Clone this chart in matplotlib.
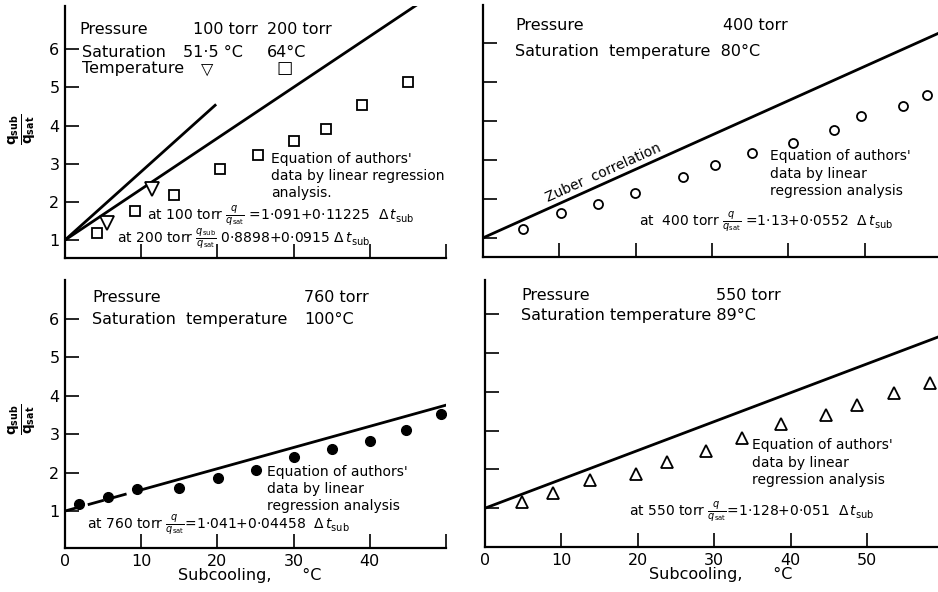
import numpy as np
import matplotlib
matplotlib.use('Agg')
import matplotlib.pyplot as plt

plt.rcParams['font.family'] = 'DejaVu Sans'
plt.rcParams['mathtext.fontset'] = 'dejavusans'

# 100 / 200 torr
sq200_x = [4.2, 9.2, 14.3, 20.3, 25.3, 30.0, 34.2, 39.0, 45.0]
sq200_y = [1.18, 1.77, 2.18, 2.85, 3.22, 3.59, 3.92, 4.53, 5.14]
tri100_x = [5.5, 11.4]
tri100_y = [1.45, 2.35]
zuber100_x = [0, 19.7]
zuber100_y = [1.0, 4.53]
zuber200_x = [0, 50]
zuber200_y = [1.0, 7.67]

# 400 torr
c400_x = [5.3, 10.2, 15.1, 19.9, 26.2, 30.4, 35.3, 40.6, 46.0, 49.5, 55.0, 58.2]
c400_y = [1.22, 1.63, 1.87, 2.16, 2.57, 2.86, 3.17, 3.43, 3.77, 4.13, 4.37, 4.67]
zuber400_x = [0, 59.6]
zuber400_y = [1.0, 6.24]

# 760 torr
d760_x = [1.8, 5.6, 9.5, 14.9, 20.1, 25.1, 30.0, 35.0, 40.0, 44.8, 49.4]
d760_y = [1.18, 1.37, 1.57, 1.61, 1.86, 2.06, 2.41, 2.62, 2.82, 3.10, 3.51]
zuber760_x = [0, 10, 50]
zuber760_y = [1.0, 1.55, 3.75]

# 550 torr
t550_x = [4.9, 8.9, 13.8, 19.8, 23.8, 28.9, 33.7, 38.8, 44.7, 48.7, 53.5, 58.2]
t550_y = [1.16, 1.39, 1.72, 1.87, 2.19, 2.48, 2.81, 3.16, 3.41, 3.65, 3.96, 4.23]
zuber550_x = [0, 59.3]
zuber550_y = [1.0, 5.41]

xticks = [0, 10, 20, 30, 40, 50]
yticks = [1, 2, 3, 4, 5, 6]

W, H = 938, 592
fig = plt.figure(figsize=(W / 100, H / 100), dpi=100)


def make_axes(left, right, top, bottom, xlim, ylim):
    ax = fig.add_axes([left / W, 1 - bottom / H, (right - left) / W, (bottom - top) / H])
    ax.set_xlim(*xlim)
    ax.set_ylim(*ylim)
    for s in ['top', 'right']:
        ax.spines[s].set_visible(False)
    for s in ['left', 'bottom']:
        ax.spines[s].set_linewidth(1.6)
    ax.set_xticks(xticks)
    ax.set_yticks(yticks)
    ax.tick_params(direction='in', length=10, width=1.2, labelsize=11.5, pad=4)
    return ax


ax1 = make_axes(65, 446, 6, 258, (0, 50), (0.53, 7.13))
ax2 = make_axes(483, 938, 5, 257, (0, 59.6), (0.51, 6.97))
ax3 = make_axes(65, 446, 280, 548, (0, 50), (0.04, 7.0))
ax4 = make_axes(485, 938, 280, 547, (0, 59.3), (0.0, 6.88))

ax1.tick_params(labelbottom=False)
ax2.tick_params(labelbottom=False, labelleft=False)
ax4.tick_params(labelleft=False)
ax3.set_xticklabels(['0', '10', '20', '30', '40', ''])

ylab = r'$\frac{\mathbf{q}_{\mathbf{sub}}}{\mathbf{q}_{\mathbf{sat}}}$'
for ax, yc in [(ax1, 0.51), (ax3, 0.48)]:
    ax.set_ylabel(ylab, fontsize=14, rotation=90, va='center', ha='center')
    ax.yaxis.set_label_coords(-0.11, yc)
for ax, xc in [(ax3, 0.486), (ax4, 0.52)]:
    ax.set_xlabel('Subcooling,      \u00b0C', fontsize=11.5)
    ax.xaxis.set_label_coords(xc, -0.075)

lw = 2.0
fs = 11.5
fe = 10.0

# top left panel
ax1.plot(zuber100_x, zuber100_y, color='black', lw=lw)
ax1.plot(zuber200_x, zuber200_y, color='black', lw=lw)
ax1.plot(sq200_x, sq200_y, 's', ms=7.5, mfc='white', mec='black', mew=1.3)
ax1.plot(tri100_x, tri100_y, 'v', ms=9.5, mfc='white', mec='black', mew=1.3)
ax1.text(1.9, 6.52, 'Pressure', fontsize=fs, va='center')
ax1.text(16.8, 6.52, '100 torr', fontsize=fs, va='center')
ax1.text(26.5, 6.52, '200 torr', fontsize=fs, va='center')
ax1.text(2.2, 5.90, 'Saturation', fontsize=fs, va='center')
ax1.text(15.5, 5.90, '51\u00b75 \u00b0C', fontsize=fs, va='center')
ax1.text(26.5, 5.90, '64\u00b0C', fontsize=fs, va='center')
ax1.text(2.2, 5.49, 'Temperature', fontsize=fs, va='center')
ax1.text(18.6, 5.47, '\u25bd', fontsize=fs, va='center', ha='center')
ax1.text(28.8, 5.51, '\u25a1', fontsize=fs + 1, va='center', ha='center')
ax1.text(27.0, 3.31, "Equation of authors'\ndata by linear regression\nanalysis.",
         fontsize=fe, va='top', linespacing=1.3)
ax1.text(10.7, 1.64, r'at 100 torr $\frac{q}{q_{\mathrm{sat}}}$ =1$\cdot$091+0$\cdot$11225  $\Delta\,t_{\mathrm{sub}}$',
         fontsize=fe, va='center')
ax1.text(6.8, 1.02, r'at 200 torr $\frac{q_{\mathrm{sub}}}{q_{\mathrm{sat}}}$ 0$\cdot$8898+0$\cdot$0915 $\Delta\,t_{\mathrm{sub}}$',
         fontsize=fe, va='center')

# top right panel
ax2.plot(zuber400_x, zuber400_y, color='black', lw=lw)
ax2.plot(c400_x, c400_y, 'o', ms=6.5, mfc='white', mec='black', mew=1.3)
ax2.text(4.2, 6.44, 'Pressure', fontsize=fs, va='center')
ax2.text(31.5, 6.44, '400 torr', fontsize=fs, va='center')
ax2.text(4.2, 5.78, 'Saturation  temperature  80\u00b0C', fontsize=fs, va='center')
p0 = ax2.transData.transform((zuber400_x[0], zuber400_y[0]))
p1 = ax2.transData.transform((zuber400_x[1], zuber400_y[1]))
ang = np.degrees(np.arctan2(p1[1] - p0[1], p1[0] - p0[0]))
ax2.text(15.8, 2.66, 'Zuber  correlation', fontsize=fe, rotation=ang,
         rotation_mode='anchor', ha='center', va='center')
ax2.text(37.6, 3.27, "Equation of authors'\ndata by linear\nregression analysis",
         fontsize=fe, va='top', linespacing=1.3)
ax2.text(20.4, 1.42, r'at  400 torr $\frac{q}{q_{\mathrm{sat}}}$ =1$\cdot$13+0$\cdot$0552  $\Delta\,t_{\mathrm{sub}}$',
         fontsize=fe, va='center')

# bottom left panel
ax3.plot(zuber760_x[:2], zuber760_y[:2], color='black', lw=lw, dashes=(6, 2.5))
ax3.plot(zuber760_x[1:], zuber760_y[1:], color='black', lw=lw)
ax3.plot(d760_x, d760_y, 'o', ms=7, color='black')
ax3.text(3.6, 6.55, 'Pressure', fontsize=fs, va='center')
ax3.text(31.4, 6.55, '760 torr', fontsize=fs, va='center')
ax3.text(3.6, 5.98, 'Saturation  temperature', fontsize=fs, va='center')
ax3.text(31.4, 5.98, '100\u00b0C', fontsize=fs, va='center')
ax3.text(26.5, 2.2, "Equation of authors'\ndata by linear\nregression analysis",
         fontsize=fe, va='top', linespacing=1.3)
ax3.text(2.9, 0.64, r'at 760 torr $\frac{q}{q_{\mathrm{sat}}}$=1$\cdot$041+0$\cdot$04458  $\Delta\,t_{\mathrm{sub}}$',
         fontsize=fe, va='center')

# bottom right panel
ax4.plot(zuber550_x, zuber550_y, color='black', lw=lw)
ax4.plot(t550_x, t550_y, '^', ms=9, mfc='white', mec='black', mew=1.3)
ax4.text(4.7, 6.49, 'Pressure', fontsize=fs, va='center')
ax4.text(30.2, 6.49, '550 torr', fontsize=fs, va='center')
ax4.text(4.7, 5.97, 'Saturation temperature 89\u00b0C', fontsize=fs, va='center')
ax4.text(35.0, 2.8, "Equation of authors'\ndata by linear\nregression analysis",
         fontsize=fe, va='top', linespacing=1.3)
ax4.text(18.9, 0.90, r'at 550 torr $\frac{q}{q_{\mathrm{sat}}}$=1$\cdot$128+0$\cdot$051  $\Delta\,t_{\mathrm{sub}}$',
         fontsize=fe, va='center')

fig.savefig('out.png', dpi=100)
